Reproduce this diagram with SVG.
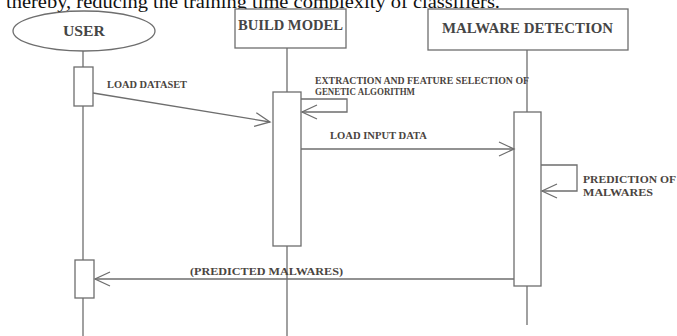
<svg xmlns="http://www.w3.org/2000/svg" width="677" height="336" viewBox="0 0 677 336">
<style>
.ln{stroke:#6e6e6e;stroke-width:1.3;fill:none}
.bx{stroke:#6e6e6e;stroke-width:1.3;fill:#fff}
.hd{font-family:"Liberation Serif",serif;font-weight:bold;fill:#454545;font-size:14px}
.lb{font-family:"Liberation Serif",serif;font-weight:bold;fill:#4a4440;font-size:10px}
.top{font-family:"Liberation Serif",serif;fill:#111;font-size:19px}
</style>
<defs>
<marker id="ah" markerUnits="userSpaceOnUse" markerWidth="20" markerHeight="20" refX="0" refY="0" viewBox="-18 -10 20 20" orient="auto">
<path d="M-15,-7 L0,0 L-15,7" fill="none" stroke="#6e6e6e" stroke-width="1.3"/>
</marker>
</defs>
<rect width="677" height="336" fill="#fff"/>
<text class="top" x="6" y="8" textLength="494" lengthAdjust="spacingAndGlyphs">thereby, reducing the training time complexity of classifiers.</text>

<g id="lifelines">
<line class="ln" x1="83" y1="51" x2="83" y2="336"/>
<line class="ln" x1="287" y1="48" x2="287" y2="336"/>
<line class="ln" x1="527" y1="50" x2="527" y2="325"/>
</g>

<g id="user">
<ellipse class="bx" cx="84" cy="31" rx="71" ry="20"/>
<text class="hd" x="84" y="36" text-anchor="middle" textLength="42" lengthAdjust="spacingAndGlyphs">USER</text>
</g>
<g id="build-model">
<rect class="bx" x="235" y="9" width="111" height="39"/>
<text class="hd" x="238" y="30" textLength="105" lengthAdjust="spacingAndGlyphs">BUILD MODEL</text>
</g>
<g id="malware-detection">
<rect class="bx" x="428" y="9" width="200" height="41"/>
<text class="hd" x="442" y="33" textLength="171" lengthAdjust="spacingAndGlyphs">MALWARE DETECTION</text>
</g>

<g id="activations">
<rect class="bx" x="74" y="67" width="19" height="39"/>
<rect class="bx" x="273" y="92" width="28" height="154"/>
<rect class="bx" x="514" y="112" width="27" height="174"/>
<rect class="bx" x="75" y="260" width="19" height="38"/>
</g>

<g id="connectors">
<line class="ln" x1="93" y1="93" x2="270" y2="122" marker-end="url(#ah)"/>
<polyline class="ln" points="301,99 347,99 347,112 302,112" marker-end="url(#ah)"/>
<line class="ln" x1="301" y1="149" x2="514" y2="149" marker-end="url(#ah)"/>
<polyline class="ln" points="541,165 577,165 577,191 542,191" marker-end="url(#ah)"/>
<line class="ln" x1="514" y1="279" x2="95" y2="279" marker-end="url(#ah)"/>
</g>

<g id="labels">
<text class="lb" x="107" y="88" textLength="80" lengthAdjust="spacingAndGlyphs">LOAD DATASET</text>
<text class="lb" x="315" y="84" textLength="214" lengthAdjust="spacingAndGlyphs">EXTRACTION AND FEATURE SELECTION OF</text>
<text class="lb" x="315" y="95" textLength="100" lengthAdjust="spacingAndGlyphs">GENETIC ALGORITHM</text>
<text class="lb" x="330" y="139" textLength="97" lengthAdjust="spacingAndGlyphs">LOAD INPUT DATA</text>
<text class="lb" x="583" y="183" textLength="93" lengthAdjust="spacingAndGlyphs">PREDICTION OF</text>
<text class="lb" x="583" y="196" textLength="70" lengthAdjust="spacingAndGlyphs">MALWARES</text>
<text class="lb" x="190" y="275" textLength="153" lengthAdjust="spacingAndGlyphs">(PREDICTED MALWARES)</text>
</g>
</svg>
